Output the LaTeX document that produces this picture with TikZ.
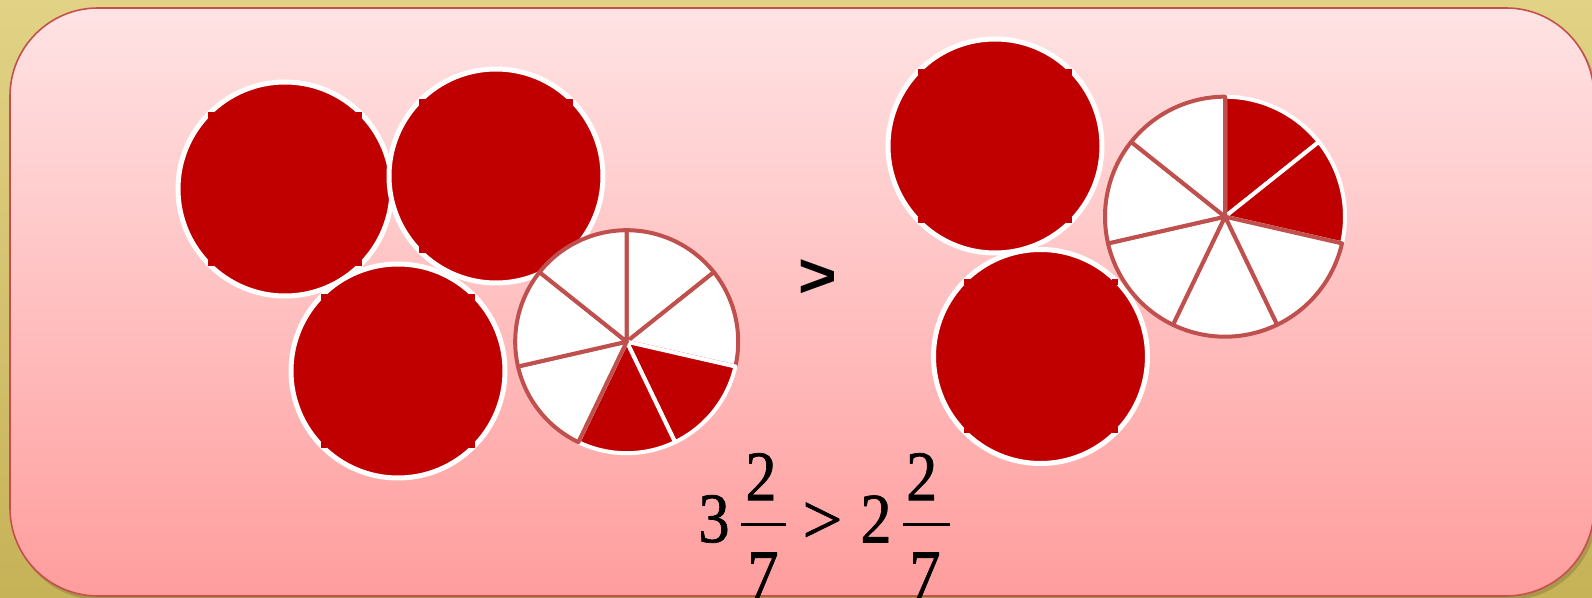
\documentclass[tikz,border=0pt]{standalone}
\usepackage{fontspec}
\setmainfont{Liberation Serif}
\newfontfamily\signfont{Liberation Sans}
\newfontface\eqfont{Liberation Serif}[FakeBold=1]
\usetikzlibrary{calc}
\definecolor{goldtop}{HTML}{E1D285}
\definecolor{goldbot}{HTML}{C6B257}
\definecolor{pinktop}{HTML}{FFE3E4}
\definecolor{pinkbot}{HTML}{FF9D9D}
\definecolor{framebrd}{HTML}{C4504D}
\definecolor{piered}{HTML}{C00000}
\definecolor{piebrown}{HTML}{C0504D}
\newcommand\eqglyph[1]{\scalebox{0.88}[1]{#1}}
\tikzset{
  wholedisc/.style={fill=piered,draw=white,line width=2.5pt},
  emptyslice/.style={fill=white,draw=piebrown,line width=2pt,line join=round},
  fullslice/.style={fill=piered,draw=white,line width=2pt,line join=round},
  eqtext/.style={font=\eqfont\fontsize{35.5}{40}\selectfont,inner sep=0pt,anchor=center},
  fracbar/.style={line width=1.5pt,black},
}
\newcommand\discticks[2]{%
  \foreach \sx in {-1,1}{\foreach \sy in {-1,1}{%
    \fill[piered] ($(#1,#2)+(\sx*77,\sy*77)$) rectangle ++(-\sx*6,-\sy*6);}}}
\newcommand\piechart[4]{% cx, cy, radius, list of styles
  \foreach \s [count=\k from 0] in {#4}{%
    \path[\s] (#1,#2) -- ++({-90+\k*360/7}:#3)
      arc[start angle={-90+\k*360/7},end angle={-90+(\k+1)*360/7},radius=#3] -- cycle;}}
\begin{document}
\begin{tikzpicture}[x=0.5pt,y=-0.5pt]
\useasboundingbox (0,0) rectangle (1592,598);
\clip (0,0) rectangle (1592,598);
% background
\fill[top color=goldtop,bottom color=goldbot] (0,0) rectangle (1592,598);
% frame shadow and frame
\fill[black,opacity=0.15,rounded corners=44pt] (12,11) rectangle (1597,600);
\path[draw=framebrd,line width=0.8pt,top color=pinktop,bottom color=pinkbot,rounded corners=44pt]
  (10,8) rectangle (1594,596);
% left group: three whole discs
\path[wholedisc] (285,189) circle[radius=107];
\discticks{285}{189}
\path[wholedisc] (496,176) circle[radius=107];
\discticks{496}{176}
\path[wholedisc] (398,371) circle[radius=107];
\discticks{398}{371}
% left pie: 2 of 7
\piechart{626.7}{341.7}{111.5}{emptyslice,emptyslice,fullslice,fullslice,emptyslice,emptyslice,emptyslice}
% comparison sign
\node[inner sep=0pt] (sign) at (818,279) {\scalebox{1.05}[1]{\signfont\bfseries\fontsize{31.5}{36}\selectfont >}};
% right group: two whole discs
\path[wholedisc] (995,146) circle[radius=107];
\discticks{995}{146}
\path[wholedisc] (1040.5,356.5) circle[radius=107];
\discticks{1040.5}{356.5}
% right pie: 2 of 7
\piechart{1225}{216.7}{120}{fullslice,fullslice,emptyslice,emptyslice,emptyslice,emptyslice,emptyslice}
% equation
\node[eqtext] (int1) at (714,519) {\eqglyph{3}};
\node[eqtext] (num1) at (761,476.7) {\eqglyph{2}};
\node[eqtext] (den1) at (763,575.7) {\eqglyph{7}};
\coordinate (b1l) at (741,525);
\coordinate (b1r) at (786,525);
\draw[fracbar] (b1l) -- (b1r);
\node[eqtext] (rel) at (822.5,523) {>};
\node[eqtext] (int2) at (876,519) {\eqglyph{2}};
\node[eqtext] (num2) at (921.7,476.7) {\eqglyph{2}};
\node[eqtext] (den2) at (925,575.7) {\eqglyph{7}};
\coordinate (b2l) at (903,525);
\coordinate (b2r) at (950,525);
\draw[fracbar] (b2l) -- (b2r);
\end{tikzpicture}
\end{document}
